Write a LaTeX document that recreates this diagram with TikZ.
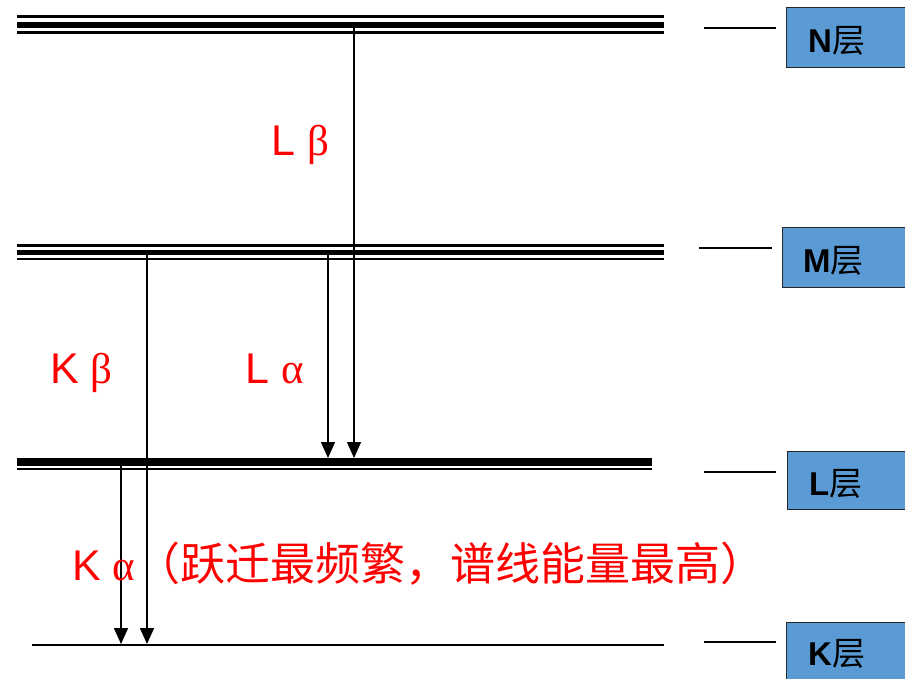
\documentclass[tikz,border=0pt]{standalone}
\usepackage{fontspec}
\setmainfont{Liberation Sans}
\newfontfamily\cjk{Noto Sans CJK SC}
\newfontfamily\grk{Liberation Serif}
\usetikzlibrary{arrows.meta}
\definecolor{boxblue}{RGB}{91,155,213}
\definecolor{lblred}{RGB}{255,0,0}
\tikzset{
  arr/.style={line width=1.5pt,-{Triangle[length=16pt,width=14pt]}},
  lvbox/.style={draw=black!85,line width=1.3pt,fill=boxblue,anchor=north west,minimum width=130pt,inner sep=0pt},
  lvtext/.style={anchor=base west,inner sep=0pt,font=\fontsize{33}{33}\selectfont\bfseries},
  tick/.style={line width=2.5pt},
  redlbl/.style={anchor=base west,inner sep=0pt,text=lblred,font=\fontsize{43}{43}\selectfont},
}
\begin{document}
\begin{tikzpicture}[x=1pt,y=-1pt]
\useasboundingbox (0,0) rectangle (905,678);
% N level
\draw[line width=3pt] (17,16.5) -- (664,16.5);
\draw[line width=6.3pt] (17,25) -- (664,25);
\draw[line width=3pt] (17,32.5) -- (664,32.5);
% M level
\draw[line width=2.7pt] (17,245.3) -- (664,245.3);
\draw[line width=5.3pt] (17,252.3) -- (664,252.3);
\draw[line width=2.7pt] (17,259) -- (664,259);
% L level
\draw[line width=7.7pt] (17,462) -- (652,462);
\draw[line width=2pt] (17,469.3) -- (652,469.3);
% K level
\draw[line width=2pt] (32,645) -- (664,645);

% arrow endpoints
\coordinate (LbS) at (354,28);
\coordinate (LbE) at (354,458);
\coordinate (LaS) at (328,255);
\coordinate (LaE) at (328,458);
\coordinate (KbS) at (147,255);
\coordinate (KbE) at (147,644);
\coordinate (KaS) at (121,466);
\coordinate (KaE) at (121,644);
\draw[arr] (LbS) -- (LbE);
\draw[arr] (LaS) -- (LaE);
\draw[arr] (KbS) -- (KbE);
\draw[arr] (KaS) -- (KaE);

% labels
\node[redlbl] (lb) at (271,155) {L {\grk β}};
\node[redlbl] (kb) at (50,383) {K {\grk β}};
\node[redlbl] (la) at (245,383) {L {\grk α}};
\node[redlbl] (ka) at (72,580) {K {\grk α}{\cjk\fontsize{45}{45}\selectfont （跃迁最频繁，谱线能量最高）}};

% boxes
\node[lvbox,minimum height=60pt] (Nbox) at (786,7) {};
\node[lvbox,minimum height=60pt] (Mbox) at (782,227) {};
\node[lvbox,minimum height=58pt] (Lbox) at (787,451) {};
\node[lvbox,minimum height=60pt] (Kbox) at (786,622) {};
\node[lvtext] (Nt) at (808,52) {N{\cjk\mdseries 层}};
\node[lvtext] (Mt) at (803,272) {M{\cjk\mdseries 层}};
\node[lvtext] (Lt) at (809,495) {L{\cjk\mdseries 层}};
\node[lvtext] (Kt) at (808,665) {K{\cjk\mdseries 层}};

% ticks
\coordinate (Na) at (704,28); \coordinate (Nb) at (776,28);
\coordinate (Ma) at (699,248); \coordinate (Mb) at (772,248);
\coordinate (La) at (704,472); \coordinate (Lb) at (776,472);
\coordinate (Ka) at (704,642); \coordinate (Kb) at (776,642);
\draw[tick] (Na) -- (Nb);
\draw[tick] (Ma) -- (Mb);
\draw[tick] (La) -- (Lb);
\draw[tick] (Ka) -- (Kb);
\end{tikzpicture}
\end{document}
